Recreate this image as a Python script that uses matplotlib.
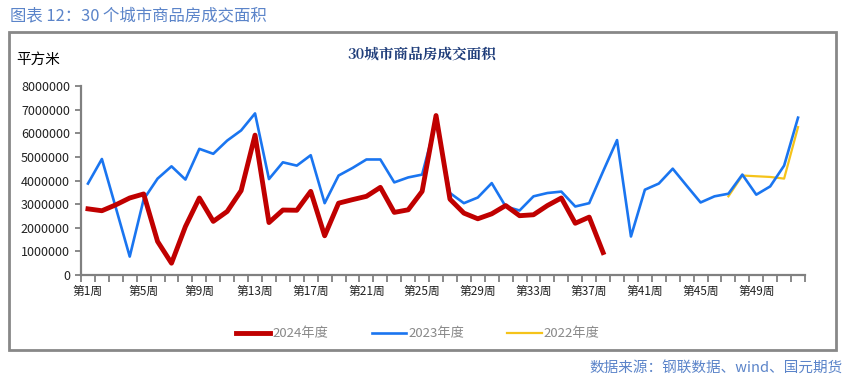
import numpy as np
import matplotlib
matplotlib.use("Agg")
from matplotlib import pyplot as plt
from matplotlib.patches import Rectangle
from matplotlib.ticker import FixedLocator, NullFormatter

plt.rcParams['font.family'] = ['Noto Sans CJK SC', 'DejaVu Sans']

weeks = np.arange(1, 53)
week_labels = [f"第{w}周" for w in range(1, 53, 4)]

# 2024 (weeks 1-38)
area_2024 = [2.80, 2.72, 2.97, 3.26, 3.43, 1.42, 0.50, 2.05, 3.26, 2.27,
             2.69, 3.57, 5.92, 2.22, 2.75, 2.74, 3.54, 1.66, 3.04, 3.19,
             3.33, 3.71, 2.65, 2.76, 3.54, 6.75, 3.21, 2.62, 2.38, 2.59,
             2.94, 2.51, 2.55, 2.94, 3.26, 2.19, 2.45, 0.95]
# 2023 (weeks 1-52)
area_2023 = [3.87, 4.91, 2.85, 0.78, 3.20, 4.08, 4.60, 4.04, 5.34, 5.13,
             5.69, 6.12, 6.84, 4.06, 4.77, 4.63, 5.07, 3.04, 4.21, 4.53,
             4.89, 4.89, 3.92, 4.13, 4.25, 6.49, 3.47, 3.04, 3.28, 3.89,
             2.90, 2.73, 3.33, 3.47, 3.53, 2.90, 3.04, 4.39, 5.71, 1.63,
             3.61, 3.87, 4.50, 3.78, 3.07, 3.33, 3.44, 4.25, 3.40, 3.75,
             4.63, 6.66]
# 2022 (weeks 47-52)
weeks_2022 = [47, 48, 49, 50, 51, 52]
area_2022 = [3.33, 4.21, 4.18, 4.15, 4.08, 6.26]

W, H = 847, 379
fig = plt.figure(figsize=(W / 100, H / 100), dpi=100)

ax = fig.add_axes([81 / W, 1 - 275 / H, (805 - 81) / W, (275 - 86) / H])

ax.plot(weeks[:len(area_2024)], np.array(area_2024) * 1e6, color='#C00000', lw=3.5,
        solid_joinstyle='round', label='2024年度', zorder=3)
ax.plot(weeks, np.array(area_2023) * 1e6, color='#1A75F0', lw=1.9, label='2023年度', zorder=2)
ax.plot(weeks_2022, np.array(area_2022) * 1e6, color='#F5C31A', lw=1.6, label='2022年度', zorder=1)

ax.set_xlim(0.5, 52.5)
ax.set_ylim(0, 8e6)
ax.set_yticks(np.arange(0, 8.01e6, 1e6))
ax.set_yticklabels([f"{int(v)}" for v in np.arange(0, 8.01e6, 1e6)])

ax.xaxis.set_major_locator(FixedLocator(np.arange(0.5, 53, 1)))
ax.xaxis.set_major_formatter(NullFormatter())
ax.xaxis.set_minor_locator(FixedLocator(np.arange(1, 53, 4)))
ax.set_xticklabels(week_labels, minor=True)
ax.tick_params(axis='x', which='major', length=5, width=1.3, color='#808080', direction='out')
ax.tick_params(axis='x', which='minor', length=0, pad=7, labelsize=8.5, labelcolor='#222222')
ax.tick_params(axis='y', length=4, width=1.3, color='#808080', labelsize=9, labelcolor='#222222', pad=4)

for s in ['top', 'right']:
    ax.spines[s].set_visible(False)
for s in ['left', 'bottom']:
    ax.spines[s].set_color('#808080')
    ax.spines[s].set_linewidth(1.6)

# outer frame
fig.patches.append(Rectangle((9 / W, 1 - 350 / H), (836 - 9) / W, (350 - 32) / H,
                             transform=fig.transFigure, fill=False, ec='#888888', lw=2.0))

fig.text(10 / W, 1 - 16 / H, "图表 12：30 个城市商品房成交面积", color='#5B84C9',
         fontsize=11.8, va='center', ha='left')
fig.text(422 / W, 1 - 55 / H, "30城市商品房成交面积", color='#1F3D7A',
         fontsize=10.5, fontweight='bold', va='center', ha='center',
         family=['Noto Serif CJK SC', 'Noto Sans CJK SC', 'DejaVu Sans'])
fig.text(16 / W, 1 - 60 / H, "平方米", color='black', fontsize=10.5, va='center', ha='left')
fig.text(843 / W, 1 - 368 / H, "数据来源：钢联数据、wind、国元期货", color='#5B84C9',
         fontsize=10.5, va='center', ha='right')

leg = fig.legend(loc='center left', bbox_to_anchor=(236 / W, 1 - 334 / H), ncol=3, frameon=False,
                 fontsize=9.5, handlelength=2.6, columnspacing=3.3, handletextpad=0.15,
                 borderpad=0, borderaxespad=0)
for t in leg.get_texts():
    t.set_color('#888888')

fig.savefig("out.png", dpi=100)
